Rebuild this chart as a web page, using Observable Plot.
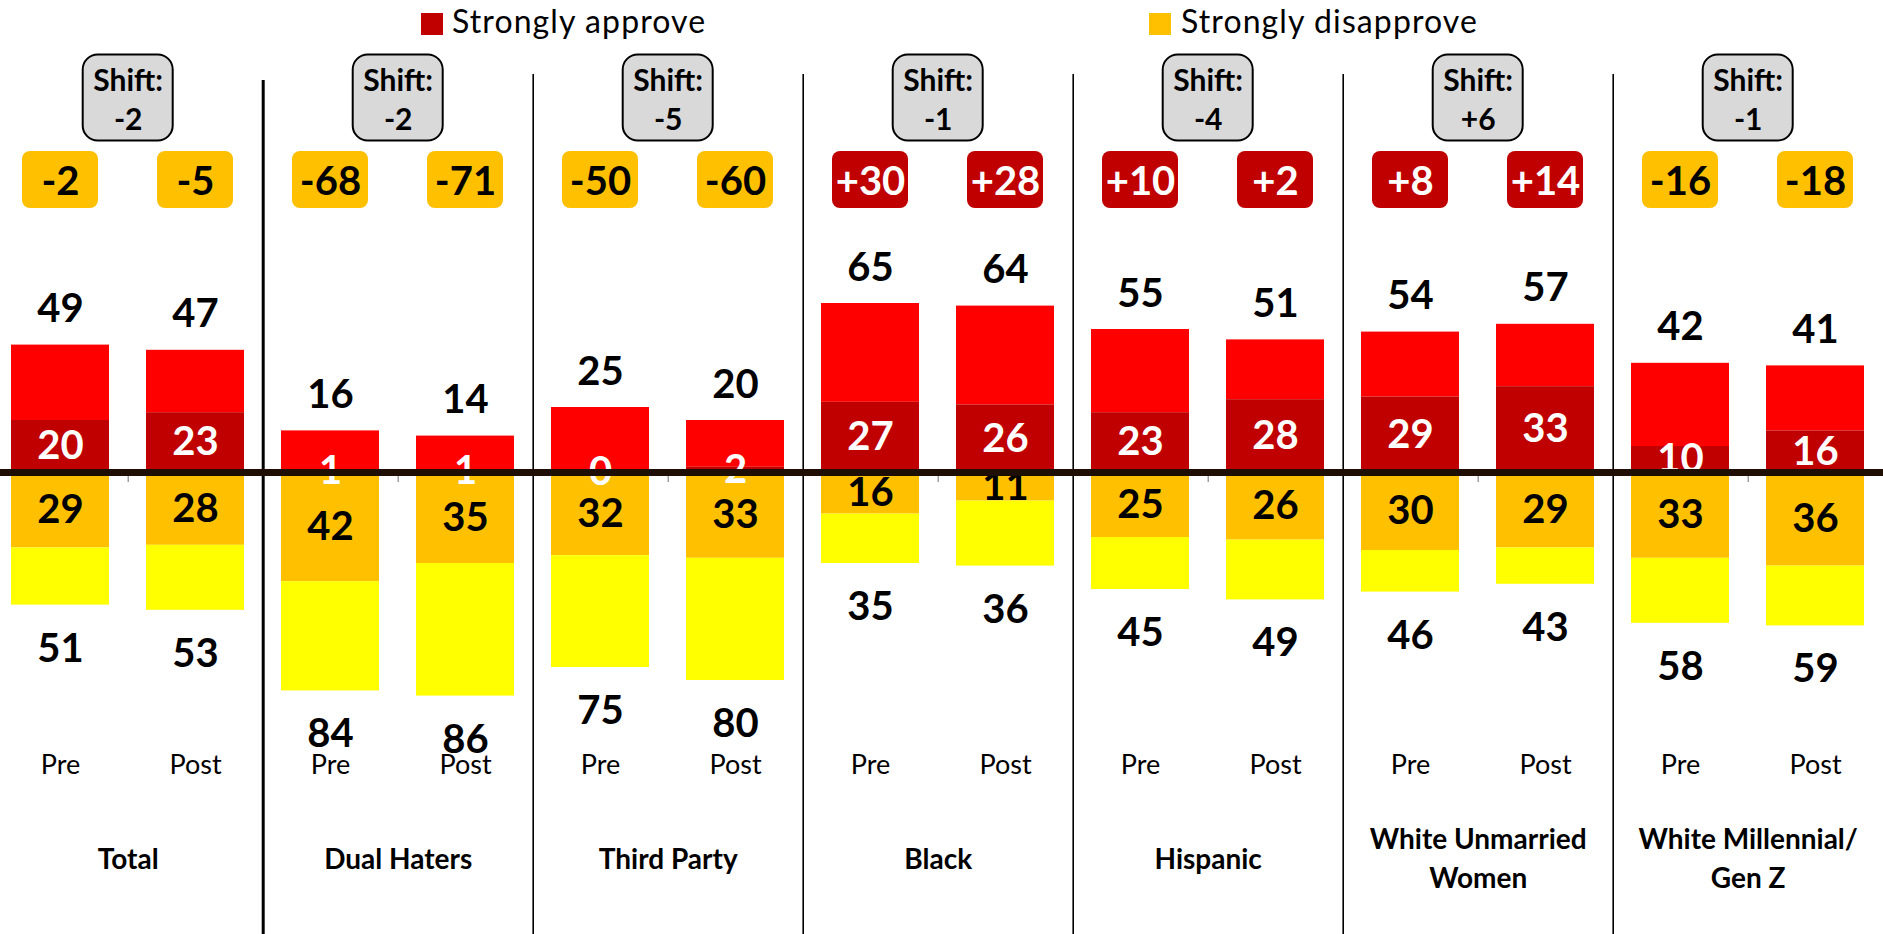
<!DOCTYPE html>
<html>
<head>
<meta charset="utf-8">
<script src="https://cdn.jsdelivr.net/npm/d3@7"></script>
<script src="https://cdn.jsdelivr.net/npm/@observablehq/plot@0.6"></script>
<style>
  html, body { margin: 0; padding: 0; background: #fff; overflow: hidden; }
  #legend { position: relative; width: 1883px; height: 46px; font-family: Lato, sans-serif; font-size: 32px; color: #000; }
  #legend .sw { position: absolute; top: 13px; width: 22px; height: 22px; }
  #legend .lb { position: absolute; top: 5px; line-height: 32px; white-space: nowrap; letter-spacing: 1.1px; }
  #chart svg { display: block; }
</style>
</head>
<body>
<div id="legend">
  <div class="sw" style="left:421px;background:#C00000"></div>
  <span class="lb" style="left:452px">Strongly approve</span>
  <div class="sw" style="left:1149px;background:#FFC000"></div>
  <span class="lb" style="left:1181px">Strongly disapprove</span>
</div>
<div id="chart"></div>
<script>
// ---- Data ----
const groups = ["Total", "Dual Haters", "Third Party", "Black", "Hispanic", "White Unmarried\nWomen", "White Millennial/\nGen Z"];
const periods = ["Pre", "Post"];
// order: group0 Pre, group0 Post, group1 Pre, ...
const totalApprove     = [49, 47, 16, 14, 25, 20, 65, 64, 55, 51, 54, 57, 42, 41];
const strongApprove    = [20, 23,  1,  1,  0,  2, 27, 26, 23, 28, 29, 33, 10, 16];
const strongDisapprove = [29, 28, 42, 35, 32, 33, 16, 11, 25, 26, 30, 29, 33, 36];
const totalDisapprove  = [51, 53, 84, 86, 75, 80, 35, 36, 45, 49, 46, 43, 58, 59];
const netScore         = [-2, -5, -68, -71, -50, -60, 30, 28, 10, 2, 8, 14, -16, -18];
const shiftScore       = [-2, -2, -5, -1, -4, 6, -1];

// ---- Tables built from the arrays ----
const rows = [];
groups.forEach((g, gi) => periods.forEach((p, pi) => {
  const i = gi * 2 + pi;
  rows.push({key: gi + "|" + p, group: g, period: p,
    ta: totalApprove[i], sa: strongApprove[i], sd: strongDisapprove[i], td: totalDisapprove[i], net: netScore[i]});
}));
const groupRows = groups.map((g, gi) => ({group: g, pre: gi + "|Pre", post: gi + "|Post", shift: shiftScore[gi]}));
const keys = rows.map(d => d.key);
const fmt = v => (v > 0 ? "+" + v : String(v));

const DARK_RED = "#C00000", RED = "#FF0000", ORANGE = "#FFC000", YELLOW = "#FFFF00";
const HALF = 67.7; // half of a band step (group centre / group boundary offset)
const num = {fontFamily: "Lato", fontWeight: 700, fontSize: 40};

const chart = Plot.plot({
  width: 1883,
  height: 888,
  margin: 0,
  style: {fontFamily: "Lato", background: "white"},
  x: {type: "band", domain: keys, range: [1.5, 1874], paddingInner: 0.271, paddingOuter: 0.05, axis: null},
  y: {domain: [-100, 100], range: [686, 166], axis: null},
  marks: [
    // separators
    Plot.ruleX(groupRows.slice(0, 1), {x: "post", dx: HALF, insetTop: 34, stroke: "black", strokeWidth: 3}),
    Plot.ruleX(groupRows.slice(1, 6), {x: "post", dx: HALF, insetTop: 28, stroke: "black", strokeWidth: 1.6}),
    // stacked bars
    Plot.barY(rows, {x: "key", y1: "sa", y2: "ta", fill: RED}),
    Plot.barY(rows, {x: "key", y1: 0, y2: "sa", fill: DARK_RED}),
    Plot.barY(rows, {x: "key", y1: 0, y2: d => -d.sd, fill: ORANGE}),
    Plot.barY(rows, {x: "key", y1: d => -d.sd, y2: d => -d.td, fill: YELLOW}),
    // totals
    Plot.text(rows, {x: "key", y: "ta", text: d => String(d.ta), lineAnchor: "bottom", dy: -23, fill: "black", ...num}),
    Plot.text(rows, {x: "key", y: d => -d.td, text: d => String(d.td), lineAnchor: "top", dy: 28, fill: "black", ...num}),
    // segment labels
    Plot.text(rows, {x: "key", y: d => d.sa / 2, text: d => String(d.sa), lineAnchor: "middle", fill: "white", ...num}),
    Plot.text(rows, {x: "key", y: d => -d.sd / 2, text: d => String(d.sd), lineAnchor: "middle", fill: "black", ...num}),
    // small axis ticks under the zero line at group centres
    Plot.ruleX(groupRows, {x: "pre", dx: HALF, y1: 0, y2: 0, insetTop: 3, insetBottom: -10, stroke: "#888", strokeWidth: 1.2}),
    // zero line
    Plot.ruleY([0], {stroke: "#1f0e03", strokeWidth: 7}),
    // net score badges
    Plot.cell(rows, {x: "key", filter: d => d.net > 0, fill: DARK_RED, rx: 8, insetLeft: 11, insetRight: 11, insetTop: 105, insetBottom: 726}),
    Plot.cell(rows, {x: "key", filter: d => d.net <= 0, fill: ORANGE, rx: 8, insetLeft: 11, insetRight: 11, insetTop: 105, insetBottom: 726}),
    Plot.text(rows, {x: "key", text: d => fmt(d.net), frameAnchor: "top", dy: 136, lineAnchor: "middle",
      fill: d => (d.net > 0 ? "white" : "black"), ...num}),
    // shift badges
    Plot.cell(groupRows, {x: "pre", dx: HALF, fill: "#D9D9D9", stroke: "black", strokeWidth: 2, rx: 15,
      insetLeft: 4, insetRight: 4, insetTop: 8.5, insetBottom: 793.5}),
    Plot.text(groupRows, {x: "pre", dx: HALF, text: d => "Shift:\n" + fmt(d.shift), frameAnchor: "top", dy: 15.7,
      lineAnchor: "top", lineHeight: 1.33, fontFamily: "Lato", fontWeight: 700, fontSize: 30, fill: "black"}),
    // Pre / Post labels
    Plot.text(rows, {x: "key", text: "period", frameAnchor: "top", dy: 727, lineAnchor: "bottom",
      fontFamily: "Lato", fontWeight: 400, fontSize: 27, fill: "black"}),
    // group labels
    Plot.text(groupRows, {x: "pre", dx: HALF, text: "group", frameAnchor: "top", dy: 809.5, lineAnchor: "middle",
      lineHeight: 1.4, fontFamily: "Lato", fontWeight: 700, fontSize: 28, fill: "black"})
  ]
});
document.getElementById("chart").appendChild(chart);
</script>
</body>
</html>
